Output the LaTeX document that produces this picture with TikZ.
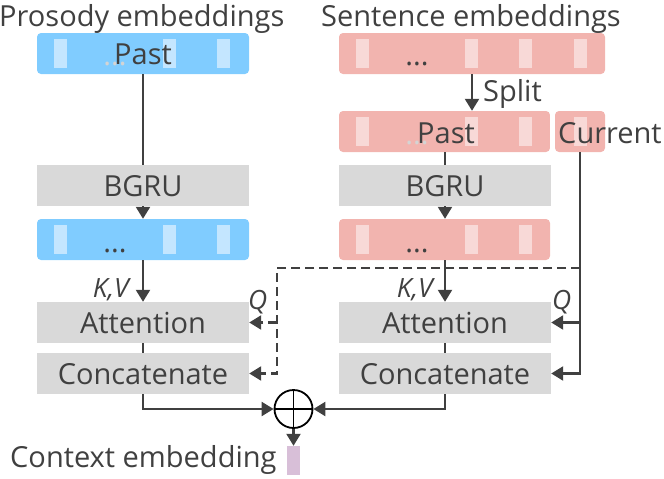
\documentclass[tikz,border=0pt]{standalone}
\usepackage{fontspec}
\setmainfont{Open Sans}
\usetikzlibrary{arrows.meta}
\definecolor{lc}{HTML}{404040}
\definecolor{blu}{HTML}{80CCFF}
\definecolor{bluin}{HTML}{C4E6FF}
\definecolor{pnk}{HTML}{F2B4AF}
\definecolor{pnkin}{HTML}{F8D9D7}
\definecolor{gry}{HTML}{D9D9D9}
\definecolor{prp}{HTML}{D8BFD8}
\definecolor{ldots}{HTML}{D4D4D4}
\begin{document}
\begin{tikzpicture}[x=1pt,y=-1pt,
  lbl/.style={font=\fontsize{29}{32}\selectfont, text=lc, inner sep=0pt, anchor=base},
  head/.style={font=\fontsize{29}{32}\selectfont, text=lc, inner sep=0pt, anchor=base west},
  kv/.style={font=\itshape\fontsize{26.5}{29}\selectfont, text=lc, inner sep=0pt},
  dotl/.style={font=\fontsize{29}{32}\selectfont, inner sep=0pt, anchor=base},
  emb/.style={rounded corners=4pt, inner sep=0pt, minimum height=41pt},
  gbox/.style={fill=gry, inner sep=0pt, minimum height=41pt},
  conn/.style={draw=lc, line width=2.3pt},
  arr/.style={conn, -{Triangle[length=12pt,width=14pt]}},
]
\useasboundingbox (0,0) rectangle (664,479);

% ---------- boxes ----------
\node[emb, fill=blu, minimum width=212pt] (blueTop) at (143,53.5) {};
\node[gbox, minimum width=212pt] (bgruL) at (143,185.5) {};
\node[emb, fill=blu, minimum width=212pt] (blue2) at (143,239.5) {};
\node[gbox, minimum width=212pt] (attL) at (143,322.5) {};
\node[gbox, minimum width=212pt] (catL) at (143,373.5) {};

\node[emb, fill=pnk, minimum width=266pt] (pinkTop) at (472,53.5) {};
\node[emb, fill=pnk, minimum width=211pt] (pastR) at (444.5,131.5) {};
\node[emb, fill=pnk, minimum width=50pt] (current) at (580,131.5) {};
\node[gbox, minimum width=212pt] (bgruR) at (445,185.5) {};
\node[emb, fill=pnk, minimum width=211pt] (pink2) at (444.5,239.5) {};
\node[gbox, minimum width=212pt] (attR) at (445,322.5) {};
\node[gbox, minimum width=212pt] (catR) at (445,373.5) {};

% ---------- inner vector bars ----------
\foreach \y in {53.5,239.5}{
  \foreach \x in {60.5,169.5,223.5}{
    \fill[bluin] ({\x-6.5},{\y-14.5}) rectangle ({\x+6.5},{\y+14.5});
  }
}
\foreach \x in {362.5,471.5,525.5,580.5}{
  \fill[pnkin] ({\x-6.5},{53.5-14.5}) rectangle ({\x+6.5},{53.5+14.5});
  \fill[pnkin] ({\x-6.5},{131.5-14.5}) rectangle ({\x+6.5},{131.5+14.5});
}
\foreach \x in {362.5,471.5,525.5}{
  \fill[pnkin] ({\x-6.5},{239.5-14.5}) rectangle ({\x+6.5},{239.5+14.5});
}
% keep the gap between Past and Current clear
\fill[white] (550,108) rectangle (555,155);

% ---------- dots ----------
\node[dotl, text=ldots] (d1) at (115,65) {...};
\node[dotl, text=lc] (d2) at (115,252) {...};
\node[dotl, text=lc] (d3) at (417,65) {...};
\node[dotl, text=ldots] (d4) at (417,144) {...};
\node[dotl, text=lc] (d5) at (417,252) {...};

% ---------- labels ----------
\node[head] (hP) at (-1,26) {Prosody embeddings};
\node[head] (hS) at (321,26) {Sentence embeddings};
\node[lbl] (tPastL) at (143,64) {Past};
\node[lbl] (tBgruL) at (143,196) {BGRU};
\node[lbl] (tAttL) at (143,333.5) {Attention};
\node[lbl] (tCatL) at (143,384.5) {Concatenate};
\node[lbl] (tPastR) at (446,143) {Past};
\node[lbl, anchor=base west] (tCur) at (558,143) {Current};
\node[lbl] (tBgruR) at (445,196) {BGRU};
\node[lbl] (tAttR) at (445,333.5) {Attention};
\node[lbl] (tCatR) at (445,384.5) {Concatenate};
\node[lbl, anchor=base west] (tSplit) at (483,101) {Split};
\node[kv, anchor=base east] (kvL) at (129,297) {K,V};
\node[kv, anchor=base east] (kvR) at (433,297) {K,V};
\node[kv, anchor=base west] (qL) at (248,309) {Q};
\node[kv, anchor=base west] (qR) at (552,309) {Q};
\node[head] (tCtx) at (10,467) {Context embedding};

% ---------- plus and output ----------
\node[circle, draw=black, fill=white, line width=1.8pt, minimum size=38pt, inner sep=0pt] (plus) at (293.5,409) {};
\draw[black, line width=1.8pt] (plus.north) -- (plus.south) (plus.west) -- (plus.east);
\node[fill=prp, inner sep=0pt, minimum width=13pt, minimum height=29pt] (ctx) at (293.5,460.5) {};

% ---------- connectors ----------
\draw[conn] (blueTop.south) -- (bgruL.north);
\draw[arr] (bgruL.south) -- (blue2.north);
\draw[arr] (blue2.south) -- (attL.north);
\draw[conn] (attL.south) -- (catL.north);
\draw[arr] (catL.south) |- (plus.west);

\draw[arr] (pinkTop.south) -- (pinkTop.south |- pastR.north);
\draw[conn] (pastR.south -| bgruR.north) -- (bgruR.north);
\draw[arr] (bgruR.south) -- (bgruR.south |- pink2.north);
\draw[arr] (bgruR.south |- pink2.south) -- (attR.north);
\draw[conn] (attR.south) -- (catR.north);
\draw[arr] (catR.south) |- (plus.east);
\draw[arr] (plus.south) -- (ctx.north);

\draw[arr] (current.south) |- (catR.east);
\draw[arr] (current.south |- attR.east) -- (attR.east);

\coordinate (dsrc) at (580,268);
\coordinate (dcorner) at (277,268);
\draw[arr, dash pattern=on 9pt off 5pt] (dsrc) -- (dcorner) |- (catL.east);
\draw[arr, dash pattern=on 9pt off 5pt] (dcorner |- attL.east) -- (attL.east);
\end{tikzpicture}
\end{document}
